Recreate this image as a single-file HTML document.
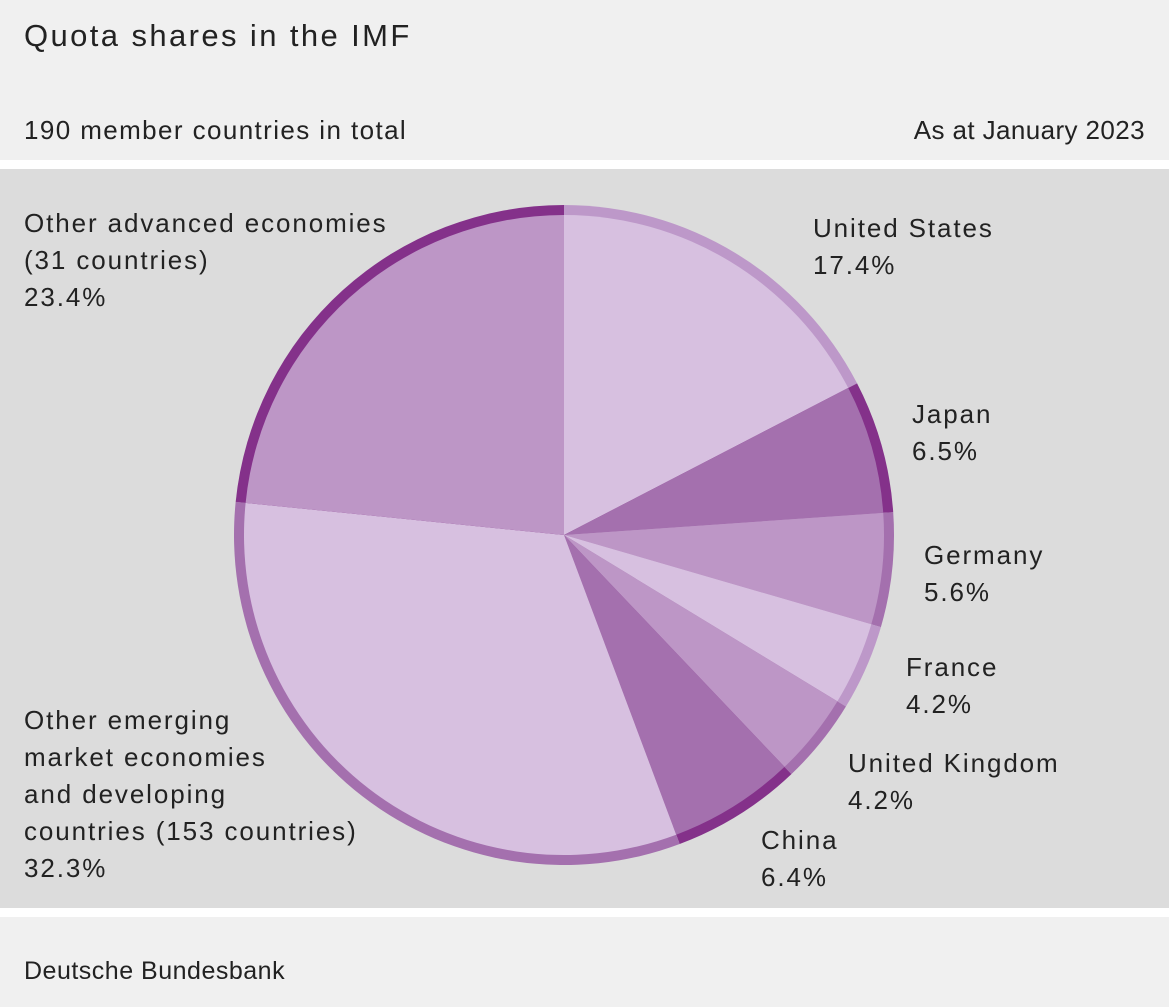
<!DOCTYPE html>
<html><head><meta charset="utf-8"><style>
body{margin:0;width:1169px;height:1007px;overflow:hidden;font-family:"Liberation Sans",sans-serif;color:#222;background:#f0f0f0;position:relative}
.t{position:absolute;white-space:nowrap}
.lab{letter-spacing:1.9px}
</style></head><body>
<div style="position:absolute;left:0;top:0;width:1169px;height:160px;background:#f0f0f0"></div>
<div style="position:absolute;left:0;top:160px;width:1169px;height:9px;background:#fff"></div>
<div style="position:absolute;left:0;top:169px;width:1169px;height:739px;background:#dcdcdc"></div>
<div style="position:absolute;left:0;top:908px;width:1169px;height:9px;background:#fff"></div>
<div class="t" style="left:24px;top:18px;font-size:31px;letter-spacing:2.4px">Quota shares in the IMF</div>
<div class="t" style="left:24px;top:115px;font-size:26px;letter-spacing:1.4px">190 member countries in total</div>
<div class="t" style="right:24px;top:115px;font-size:26px;letter-spacing:0.4px">As at January 2023</div>
<div class="t" style="left:24px;top:957px;font-size:25px;letter-spacing:0.5px">Deutsche Bundesbank</div>
<svg id="pie" width="1169" height="1007" style="position:absolute;left:0;top:0"></svg>
<div style="position:absolute;left:0;top:0;font-size:26px;line-height:37px">
<div class="t lab" style="left:813px;top:210px">United States<br>17.4%</div>
<div class="t lab" style="left:912px;top:396px">Japan<br>6.5%</div>
<div class="t lab" style="left:924px;top:537px">Germany<br>5.6%</div>
<div class="t lab" style="left:906px;top:649px">France<br>4.2%</div>
<div class="t lab" style="left:848px;top:745px">United Kingdom<br>4.2%</div>
<div class="t lab" style="left:761px;top:822px">China<br>6.4%</div>
<div class="t lab" style="left:24px;top:205px">Other advanced economies<br>(31 countries)<br>23.4%</div>
<div class="t lab" style="left:24px;top:702px">Other emerging<br>market economies<br>and developing<br>countries (153 countries)<br>32.3%</div>
</div>
<script>
var d=[[17.4,"#d7c0e0","#bd98c9"],[6.5,"#a470ae","#84318a"],[5.6,"#bd96c6","#a470ae"],[4.2,"#d7c0e0","#bd98c9"],[4.2,"#bd96c6","#a470ae"],[6.4,"#a470ae","#84318a"],[32.3,"#d7c0e0","#a470ae"],[23.4,"#bd96c6","#84318a"]];
var cx=564,cy=535,R=330,r=320,a=0,s="";
function p(rad,ang){return [cx+rad*Math.sin(ang),cy-rad*Math.cos(ang)];}
d.forEach(function(e){var a1=a+e[0]/100*2*Math.PI,l=(a1-a)>Math.PI?1:0;
var o0=p(R,a),o1=p(R,a1);
s+='<path d="M'+cx+' '+cy+'L'+o0+'A'+R+' '+R+' 0 '+l+' 1 '+o1+'Z" fill="'+e[2]+'"/>';
var i0=p(r,a),i1=p(r,a1);
s+='<path d="M'+cx+' '+cy+'L'+i0+'A'+r+' '+r+' 0 '+l+' 1 '+i1+'Z" fill="'+e[1]+'"/>';
a=a1;});
document.getElementById("pie").innerHTML=s;
</script>
</body></html>
